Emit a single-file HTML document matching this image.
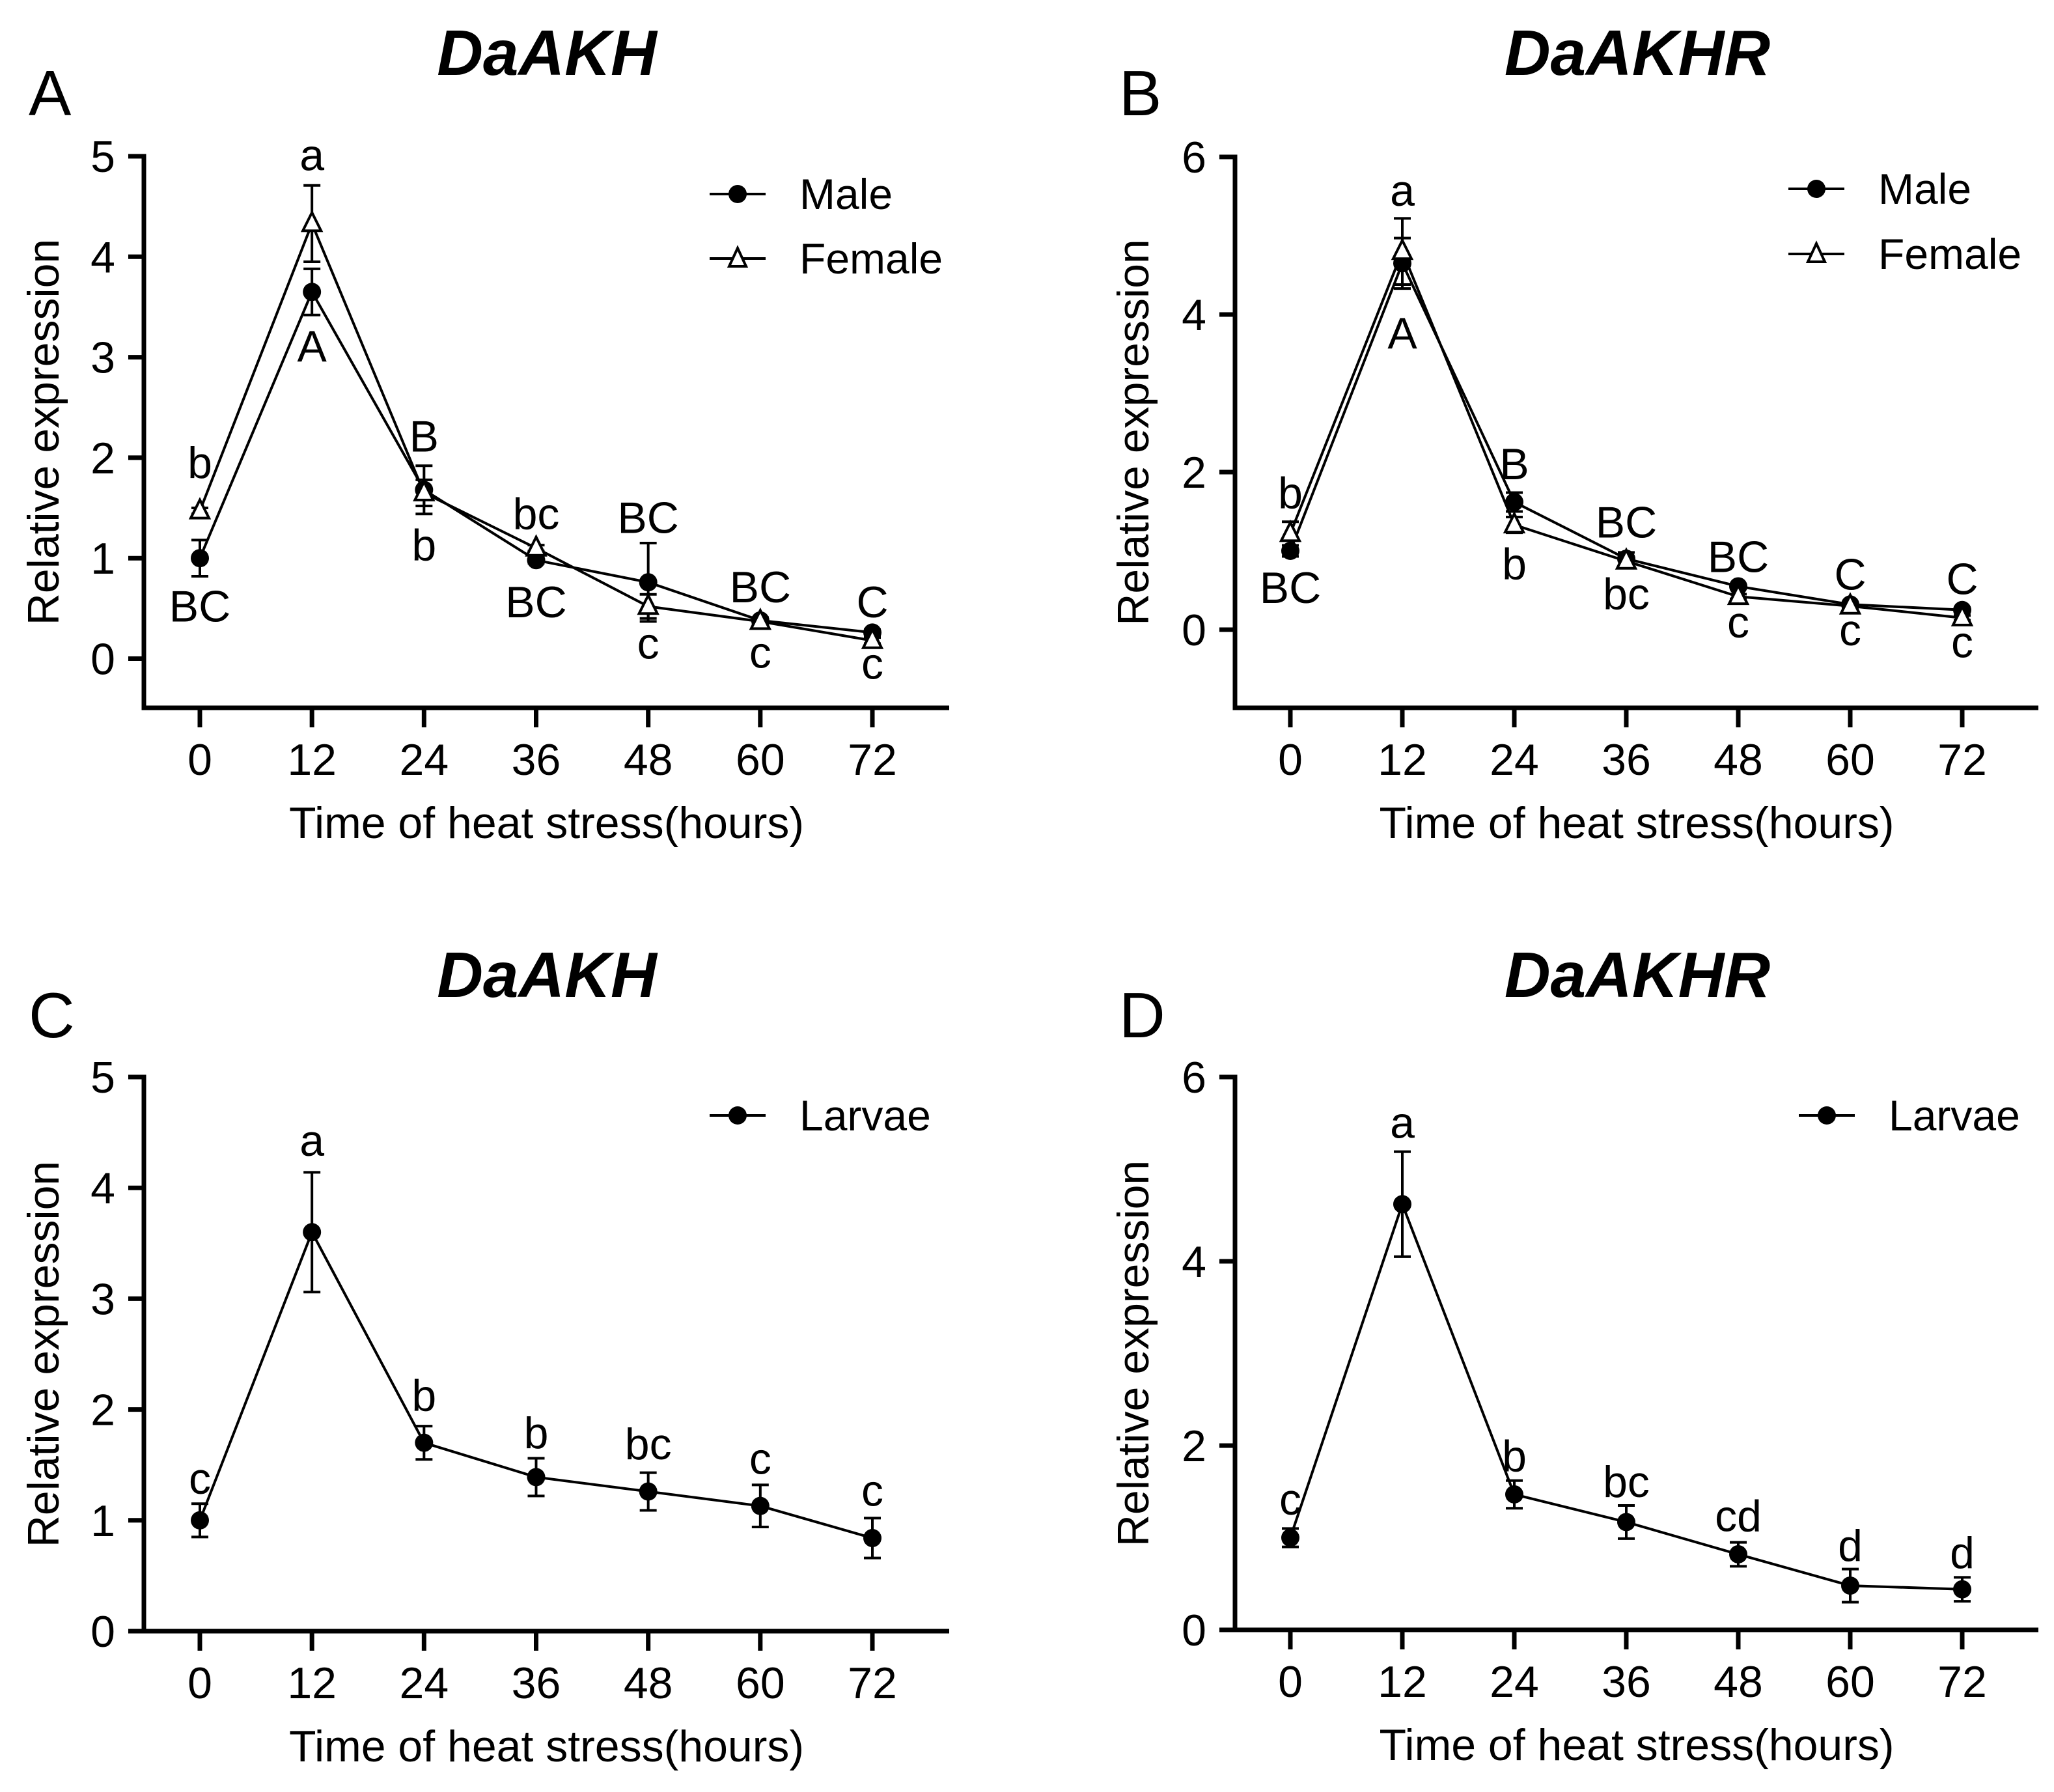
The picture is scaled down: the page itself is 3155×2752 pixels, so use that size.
<!DOCTYPE html>
<html><head><meta charset="utf-8"><style>
html,body{margin:0;padding:0;background:#fff;}
svg{display:block;font-family:"Liberation Sans",Arial,sans-serif;}
</style></head><body>
<svg id="fig" width="3155" height="2752" viewBox="0 0 3155 2752" xmlns="http://www.w3.org/2000/svg"></svg>
<script>
// ---- data ----
const hours = [0, 12, 24, 36, 48, 60, 72];
const aMale = [1.0, 3.65, 1.68, 0.98, 0.76, 0.38, 0.26];
const aMaleErr = [0.18, 0.23, 0.24, 0.03, 0.39, 0.03, 0.03];
const aFemale = [1.47, 4.33, 1.65, 1.1, 0.52, 0.37, 0.18];
const aFemaleErr = [0.03, 0.38, 0.13, 0.03, 0.12, 0.03, 0.03];
const bMale = [1.0, 4.65, 1.62, 0.9, 0.55, 0.32, 0.25];
const bMaleErr = [0.07, 0.32, 0.12, 0.08, 0.03, 0.03, 0.03];
const bFemale = [1.22, 4.8, 1.33, 0.87, 0.42, 0.3, 0.15];
const bFemaleErr = [0.15, 0.42, 0.1, 0.06, 0.03, 0.03, 0.03];
const cLarvae = [1.0, 3.6, 1.7, 1.39, 1.26, 1.13, 0.84];
const cLarvaeErr = [0.15, 0.54, 0.15, 0.17, 0.17, 0.19, 0.18];
const dLarvae = [1.0, 4.62, 1.47, 1.17, 0.82, 0.48, 0.44];
const dLarvaeErr = [0.1, 0.57, 0.15, 0.18, 0.13, 0.18, 0.13];
const aTicks = [0, 1, 2, 3, 4, 5];
const bTicks = [0, 2, 4, 6];
const aLabelText = ["b","BC","a","A","B","b","bc","BC","BC","c","BC","c","C","c"];
const aLabelIdx = [0,0,1,1,2,2,3,3,4,4,5,5,6,6];
const aLabelVal = [1.8,0.37,4.86,2.96,2.06,0.98,1.29,0.41,1.25,0.0,0.56,-0.09,0.41,-0.2];
const bLabelText = ["b","BC","a","A","B","b","BC","bc","BC","c","C","c","C","c"];
const bLabelIdx = [0,0,1,1,2,2,3,3,4,4,5,5,6,6];
const bLabelVal = [1.54,0.34,5.38,3.57,1.91,0.64,1.17,0.26,0.73,-0.1,0.51,-0.2,0.45,-0.35];
const cLabelText = ["c","a","b","b","bc","c","c"];
const cLabelVal = [1.24,4.29,1.99,1.65,1.55,1.42,1.13];
const dLabelText = ["c","a","b","bc","cd","d","d"];
const dLabelVal = [1.25,5.34,1.72,1.44,1.07,0.75,0.67];

const NS = "http://www.w3.org/2000/svg";
const svg = document.getElementById('fig');
function mk(tag, attrs, parent, name, inter) {
  const e = document.createElementNS(NS, tag);
  for (const k in attrs) e.setAttribute(k, attrs[k]);
  
  
  (parent || svg).appendChild(e);
  return e;
}
function txt(s, x, y, size, anchor, parent, name, extra) {
  const t = mk('text', Object.assign({x: x, y: y, 'font-size': size, 'text-anchor': anchor, fill: '#000'}, extra || {}), parent, name, false);
  t.textContent = s;
  return t;
}

function panel(cfg) {
  const g = mk('g', {}, svg, cfg.name, false);
  const ax = cfg.ax, ay = cfg.axisY, x0 = cfg.x0, x72 = cfg.x72;
  const X = h => x0 + (x72 - x0) * h / 72;
  const Y = v => cfg.yZero - (cfg.yZero - cfg.yTop) * v / cfg.yMaxVal;
  txt(cfg.title, cfg.titleX, cfg.titleY, 98, 'middle', g, 'panel-title', {'font-weight':'bold','font-style':'italic'});
  txt(cfg.letter, cfg.letterX, cfg.letterY, 98, 'start', g, 'panel-letter');
  mk('line', {x1: ax, y1: cfg.yTop - 3.5, x2: ax, y2: ay + 3.5, stroke:'#000','stroke-width':7}, g, 'y-axis-line', false);
  mk('line', {x1: ax, y1: ay, x2: cfg.axRight, y2: ay, stroke:'#000','stroke-width':7}, g, 'x-axis-line', false);
  cfg.ticks.forEach(t => {
    const y = Y(t);
    mk('line', {x1: ax - 24, y1: y, x2: ax, y2: y, stroke:'#000','stroke-width':7}, g, 'y-tick', false);
    txt(String(t), ax - 44, y + 24, 68, 'end', g, 'y-tick-label');
  });
  hours.forEach(h => {
    const x = X(h);
    mk('line', {x1: x, y1: ay, x2: x, y2: ay + 30, stroke:'#000','stroke-width':7}, g, 'x-tick', false);
    txt(String(h), x, ay + 103, 68, 'middle', g, 'x-tick-label');
  });
  txt('Time of heat stress(hours)', (ax + cfg.axRight) / 2, ay + 200, 68, 'middle', g, 'x-axis-title');
  const cy = (cfg.yTop + ay) / 2;
  txt('Relative expression', cfg.yTitleX, cy, 68, 'middle', g, 'y-axis-title', {transform: 'rotate(-90 ' + cfg.yTitleX + ' ' + cy + ')'});
  cfg.series.forEach(s => {
    const sg = mk('g', {}, g, 'series-' + s.label.toLowerCase(), false);
    const pts = s.vals.map((v, i) => X(hours[i]) + ',' + Y(v)).join(' ');
    mk('polyline', {points: pts, fill:'none', stroke:'#000','stroke-width':4}, sg, 'series-line', false);
    s.vals.forEach((v, i) => {
      const x = X(hours[i]);
      const e = s.err[i];
      mk('line', {x1: x, y1: Y(v + e), x2: x, y2: Y(v - e), stroke:'#000','stroke-width':4}, sg, 'error-bar', false);
      mk('line', {x1: x - 13, y1: Y(v + e), x2: x + 13, y2: Y(v + e), stroke:'#000','stroke-width':4}, sg, 'error-cap', false);
      mk('line', {x1: x - 13, y1: Y(v - e), x2: x + 13, y2: Y(v - e), stroke:'#000','stroke-width':4}, sg, 'error-cap', false);
      if (s.tri) {
        const y = Y(v);
        mk('polygon', {points: (x) + ',' + (y - 17) + ' ' + (x - 14) + ',' + (y + 11) + ' ' + (x + 14) + ',' + (y + 11), fill:'#fff', stroke:'#000','stroke-width':4}, sg, 'point-triangle', false);
      } else {
        mk('circle', {cx: x, cy: Y(v), r: 14, fill:'#000'}, sg, 'point-dot', false);
      }
    });
  });
  cfg.labTxt.forEach((s, i) => {
    txt(s, X(hours[cfg.labIdx[i]]), Y(cfg.labVal[i]), 68, 'middle', g, 'significance-letter');
  });
  cfg.legend.forEach((l, i) => {
    const lg = mk('g', {}, g, 'legend-entry', false);
    const y = cfg.legY[i];
    mk('line', {x1: cfg.legX, y1: y, x2: cfg.legX + 86, y2: y, stroke:'#000','stroke-width':4}, lg, 'legend-line', false);
    const mx = cfg.legX + 43;
    if (l.tri) mk('polygon', {points: mx + ',' + (y - 16) + ' ' + (mx - 13) + ',' + (y + 12) + ' ' + (mx + 13) + ',' + (y + 12), fill:'#fff', stroke:'#000','stroke-width':4}, lg, 'legend-marker', false);
    else mk('circle', {cx: mx, cy: y, r: 14, fill:'#000'}, lg, 'legend-marker', false);
    txt(l.label, cfg.legX + 138, y + 23, 66, 'start', lg, 'legend-label');
  });
}

panel({name:'panel-a', title:'DaAKH', titleX:840, titleY:115, letter:'A', letterX:44, letterY:177,
  ax:221, axisY:1087, axRight:1458, x0:307, x72:1340, yTop:240, yZero:1011.5, yMaxVal:5, ticks:aTicks, yTitleX:90,
  series:[{label:'Male', vals:aMale, err:aMaleErr, tri:false},{label:'Female', vals:aFemale, err:aFemaleErr, tri:true}],
  labTxt:aLabelText, labIdx:aLabelIdx, labVal:aLabelVal,
  legend:[{label:'Male',tri:false},{label:'Female',tri:true}], legX:1090, legY:[298,397]});
panel({name:'panel-b', title:'DaAKHR', titleX:2515, titleY:115, letter:'B', letterX:1719, letterY:177,
  ax:1897, axisY:1087, axRight:3131, x0:1982, x72:3014, yTop:241, yZero:967, yMaxVal:6, ticks:bTicks, yTitleX:1764,
  series:[{label:'Male', vals:bMale, err:bMaleErr, tri:false},{label:'Female', vals:bFemale, err:bFemaleErr, tri:true}],
  labTxt:bLabelText, labIdx:bLabelIdx, labVal:bLabelVal,
  legend:[{label:'Male',tri:false},{label:'Female',tri:true}], legX:2747, legY:[290,390]});
panel({name:'panel-c', title:'DaAKH', titleX:840, titleY:1531, letter:'C', letterX:44, letterY:1593,
  ax:221, axisY:2505, axRight:1458, x0:307, x72:1340, yTop:1654, yZero:2505, yMaxVal:5, ticks:aTicks, yTitleX:90,
  series:[{label:'Larvae', vals:cLarvae, err:cLarvaeErr, tri:false}],
  labTxt:cLabelText, labIdx:hours.map((h,i)=>i), labVal:cLabelVal,
  legend:[{label:'Larvae',tri:false}], legX:1090, legY:[1713]});
panel({name:'panel-d', title:'DaAKHR', titleX:2515, titleY:1531, letter:'D', letterX:1719, letterY:1593,
  ax:1897, axisY:2503, axRight:3131, x0:1982, x72:3014, yTop:1654, yZero:2503, yMaxVal:6, ticks:bTicks, yTitleX:1764,
  series:[{label:'Larvae', vals:dLarvae, err:dLarvaeErr, tri:false}],
  labTxt:dLabelText, labIdx:hours.map((h,i)=>i), labVal:dLabelVal,
  legend:[{label:'Larvae',tri:false}], legX:2763, legY:[1713]});
</script>
</body></html>
